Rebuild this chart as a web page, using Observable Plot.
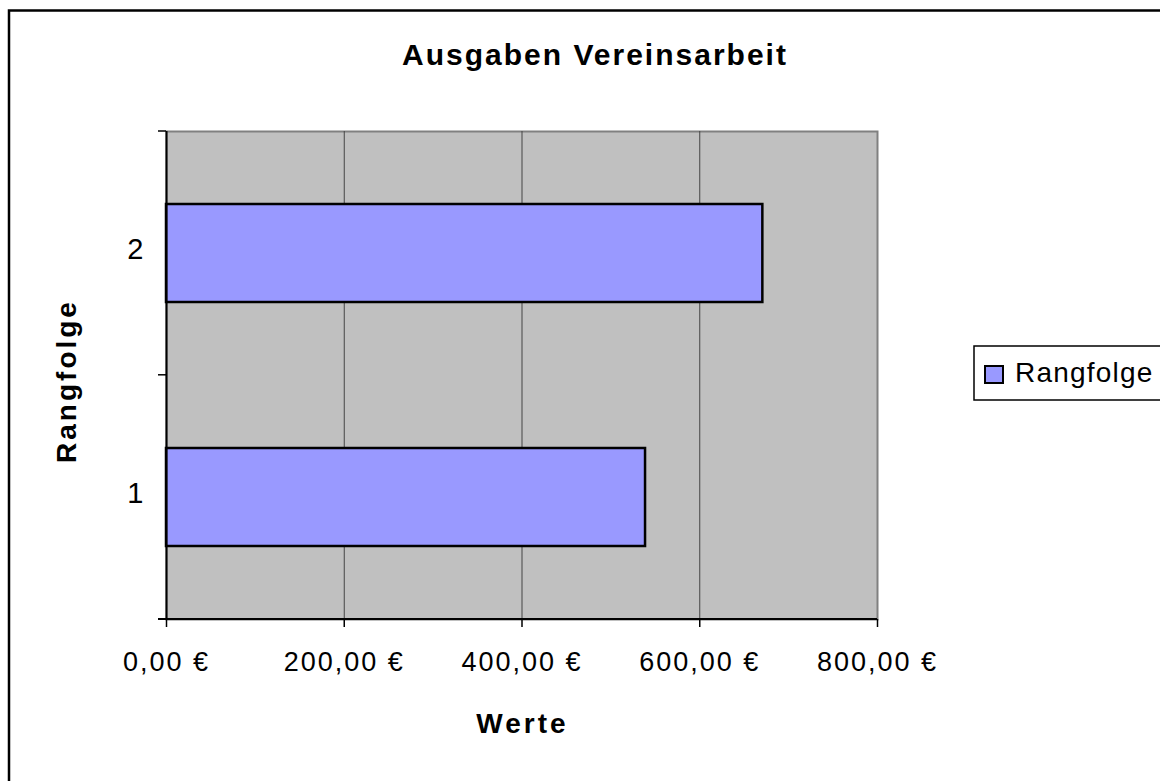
<!DOCTYPE html>
<html>
<head>
<meta charset="utf-8">
<script src="https://cdn.jsdelivr.net/npm/d3@7"></script>
<script src="https://cdn.jsdelivr.net/npm/@observablehq/plot@0.6"></script>
<style>
  html, body { margin: 0; padding: 0; background: #fff; overflow: hidden; }
  #chart svg { display: block; }
  #chart svg g[aria-label="x-axis tick label"] text {
    font-size: 27px !important;
    letter-spacing: 2px;
  }
  #chart svg g[aria-label="y-axis tick label"] text {
    font-size: 29px !important;
  }
</style>
</head>
<body>
<div id="chart"></div>
<script>
// ---- data ----
const ranks = ["1", "2"];
const values = [539, 671];
const xTicks = [0, 200, 400, 600, 800];
const gridTicks = [200, 400, 600];
const titleText = "Ausgaben Vereinsarbeit";
const xLabel = "Werte";
const yLabel = "Rangfolge";
const legendLabel = "Rangfolge";

const data = ranks.map((r, i) => ({rank: r, value: values[i]}));
const de = d3.formatLocale({decimal: ",", thousands: ".", grouping: [3], currency: ["", " €"]});
const fmt = de.format("$,.2f");

const W = 1160, H = 781;
const FONT = "'Liberation Sans', Arial, sans-serif";

const chart = Plot.plot({
  width: W,
  height: H,
  marginLeft: 166,
  marginRight: 283,
  marginTop: 131,
  marginBottom: 162,
  style: {fontFamily: FONT, fontSize: "26px", color: "#000", background: "transparent", overflow: "visible"},
  x: {domain: [0, 800]},
  y: {domain: ranks.slice().reverse(), paddingInner: 0.6, paddingOuter: 0.3},
  marks: [
    Plot.frame({fill: "#c0c0c0", stroke: "#808080", strokeWidth: 2}),
    Plot.ruleX(gridTicks, {stroke: "#444", strokeWidth: 1}),
    Plot.barX(data, {x: "value", y: "rank", fill: "#9999ff", stroke: "#000", strokeWidth: 2.5}),
    Plot.ruleX([0], {stroke: "#000", strokeWidth: 2}),
    Plot.axisX({ticks: xTicks, tickFormat: fmt, tickSize: 8, tickPadding: 24, fontSize: 27, strokeWidth: 1.5, label: null}),
    Plot.axisY({tickSize: 0, tickPadding: 23, fontSize: 29, dy: -4, label: null})
  ]
});

document.getElementById("chart").appendChild(chart);

// ---- extra decorations via d3, positioned with the Plot scales ----
const svg = d3.select(chart);
const xs = chart.scale("x");
const ys = chart.scale("y");
const [yTop, yBot] = ys.range;
const yMid = ys.apply("1") - ys.step * ys.paddingInner / 2;
const x0 = xs.apply(0), x1 = xs.apply(800);

// bottom axis line
svg.append("line").attr("x1", x0 - 8).attr("x2", x1).attr("y1", yBot).attr("y2", yBot)
  .attr("stroke", "#000").attr("stroke-width", 2);
// y category boundary ticks
for (const y of [yTop, yMid, yBot]) {
  svg.append("line").attr("x1", x0 - 8).attr("x2", x0).attr("y1", y).attr("y2", y)
    .attr("stroke", "#000").attr("stroke-width", 1.5);
}

// outer chart border (right/bottom fall outside the window)
svg.append("rect").attr("x", 9).attr("y", 10.5).attr("width", 1300).attr("height", 1000)
  .attr("fill", "none").attr("stroke", "#000").attr("stroke-width", 2.5);

// title
svg.append("text").text(titleText)
  .attr("x", 595).attr("y", 65).attr("text-anchor", "middle")
  .style("font-family", FONT).style("font-size", "30px").style("font-weight", "bold")
  .style("letter-spacing", "2px").attr("fill", "#000");

// x label
svg.append("text").text(xLabel)
  .attr("x", (x0 + x1) / 2 + 1).attr("y", 733).attr("text-anchor", "middle")
  .style("font-family", FONT).style("font-size", "28px").style("font-weight", "bold")
  .style("letter-spacing", "3px").attr("fill", "#000");

// y label
svg.append("text").text(yLabel)
  .attr("transform", "translate(76,381) rotate(-90)").attr("text-anchor", "middle")
  .style("font-family", FONT).style("font-size", "28px").style("font-weight", "bold")
  .style("letter-spacing", "3px").attr("fill", "#000");

// legend
const lg = svg.append("g");
lg.append("rect").attr("x", 974).attr("y", 346).attr("width", 260).attr("height", 54)
  .attr("fill", "#fff").attr("stroke", "#000").attr("stroke-width", 1.5);
lg.append("rect").attr("x", 985).attr("y", 366).attr("width", 18).attr("height", 17)
  .attr("fill", "#9999ff").attr("stroke", "#000").attr("stroke-width", 2);
lg.append("text").text(legendLabel).attr("x", 1015).attr("y", 382)
  .attr("text-anchor", "start")
  .style("font-family", FONT).style("font-size", "28px").style("letter-spacing", "1.2px")
  .attr("fill", "#000");
</script>
</body>
</html>
